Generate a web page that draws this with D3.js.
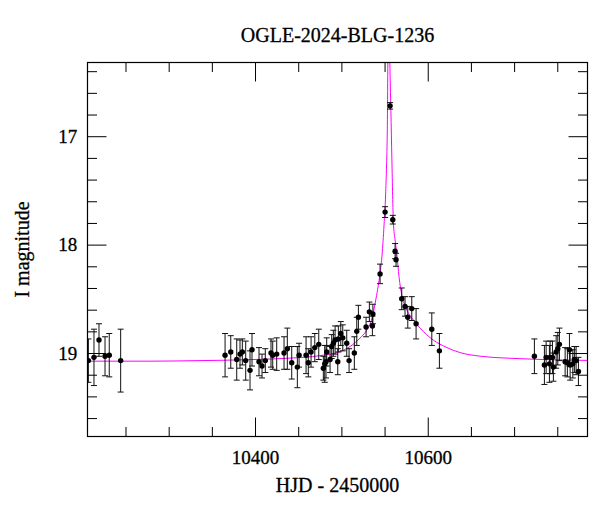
<!DOCTYPE html>
<html>
<head>
<meta charset="utf-8">
<script src="https://cdn.jsdelivr.net/npm/d3@7"></script>
<style>
  body { margin: 0; background: #fff; }
  text { font-family: "Liberation Serif", serif; fill: #000; stroke: #000; stroke-width: 0.3px; }
</style>
</head>
<body>
<svg id="chart" width="600" height="512"></svg>
<script>
// photometry (HJD - 2450000, I mag, error)
const hjd = [10207, 10213.5, 10219.3, 10226.3, 10231.2, 10244.4,
  10365.3, 10371.9, 10378.8, 10382.6, 10385.3, 10389.2, 10394.2, 10396.5, 10404.6, 10408.1,
  10411.9, 10418.5, 10420.5, 10425.1, 10433.6, 10437.4, 10442.5, 10449.0, 10451.0, 10459.1,
  10461.7, 10464.9, 10469.2, 10473.8, 10479.1, 10480.7, 10482.2, 10483.0, 10486.9, 10488.8,
  10490.7, 10492.7, 10495.8, 10496.5, 10499.3, 10501.6, 10506.2, 10508.9, 10515.0, 10517.8,
  10519.7, 10528.6, 10532.4, 10535.9, 10536.5, 10544.8, 10550.6, 10556.4, 10559.5, 10562.2,
  10563.3, 10569.9, 10573.7, 10576.9, 10581.5, 10586.5, 10604.7, 10613.5,
  10723.5, 10735.1, 10737.1, 10740.9, 10741.7, 10744.4, 10745.5, 10748.7, 10750.6, 10752.5,
  10759.1, 10761.7, 10764.1, 10764.9, 10768.0, 10769.8, 10771.8, 10774.5];
const mag = [19.07, 19.04, 18.88, 19.03, 19.02, 19.07,
  19.02, 18.99, 19.06, 19.01, 18.99, 19.07, 19.16, 18.97, 19.08, 19.12,
  19.07, 19.00, 19.02, 19.01, 19.00, 18.96, 19.09, 19.13, 19.02, 19.02,
  19.09, 18.99, 18.95, 18.92, 19.14, 19.10, 19.08, 18.99, 19.06, 18.94,
  18.91, 18.88, 19.08, 18.87, 18.82, 18.86, 18.91, 19.07, 19.00, 18.80,
  18.67, 18.76, 18.62, 18.75, 18.64, 18.27, 17.70, 16.72, 17.77, 18.06,
  18.14, 18.50, 18.57, 18.67, 18.59, 18.73, 18.78, 18.98,
  19.03, 19.11, 19.04, 19.10, 19.04, 19.04, 19.13, 18.99, 18.96, 18.92,
  19.08, 19.09, 18.97, 19.11, 19.10, 19.06, 19.07, 19.17];
const err = [0.20, 0.26, 0.15, 0.18, 0.20, 0.29,
  0.20, 0.15, 0.19, 0.13, 0.12, 0.18, 0.18, 0.15, 0.13, 0.11,
  0.11, 0.13, 0.13, 0.15, 0.15, 0.19, 0.15, 0.19, 0.11, 0.17,
  0.13, 0.14, 0.13, 0.14, 0.11, 0.17, 0.15, 0.13, 0.12, 0.11,
  0.12, 0.13, 0.12, 0.12, 0.11, 0.12, 0.12, 0.11, 0.15, 0.13,
  0.11, 0.09, 0.09, 0.09, 0.09, 0.09, 0.05, 0.03, 0.04, 0.07,
  0.06, 0.10, 0.09, 0.10, 0.11, 0.14, 0.15, 0.16,
  0.16, 0.18, 0.15, 0.17, 0.15, 0.15, 0.13, 0.15, 0.15, 0.15,
  0.13, 0.13, 0.15, 0.14, 0.13, 0.12, 0.13, 0.13];

// model light curve
const modelHjd = [10206, 10278.4, 10336.3, 10394.2, 10440.5, 10475.3, 10498.5, 10512.4, 10521.6,
  10528.6, 10535.5, 10540.2, 10544.8, 10547.1, 10549.4, 10551.2, 10552.3, 10553.3, 10553.8,
  10555.0,
  10556.1, 10557.3, 10558.5, 10560.2, 10562.2, 10564.1, 10566.8, 10569.9, 10573.7, 10578.4,
  10583.4, 10591.1, 10606.5, 10621.2, 10637.5, 10660.6, 10706.9, 10785];
const modelMag = [19.075, 19.075, 19.070, 19.061, 19.047, 19.024, 18.987, 18.927, 18.862,
  18.798, 18.678, 18.493, 18.262, 18.096, 17.819, 17.542, 17.265, 16.849, 16.317,
  15.8,
  16.317, 16.757, 17.219, 17.791, 17.958, 18.078, 18.300, 18.465, 18.567, 18.641,
  18.696, 18.770, 18.881, 18.946, 18.996, 19.029, 19.052, 19.068];

const xMajor = [10400, 10600];
const xMinor = [10250, 10300, 10350, 10450, 10500, 10550, 10650, 10700, 10750];
const yMajor = [17, 18, 19];
const yMinor = [16.4, 16.6, 16.8, 17.2, 17.4, 17.6, 17.8, 18.2, 18.4, 18.6, 18.8, 19.2, 19.4, 19.6];

const pL = 87.5, pR = 587.5, pT = 62.5, pB = 436.5;
const major = 19, minor = 9.5;

const svg = d3.select('#chart');

const x = d3.scaleLinear().domain([10206, 10785]).range([pL, pR]);
const y = d3.scaleLinear().domain([16.32, 19.77]).range([pT, pB]);

svg.append('clipPath').attr('id', 'clip')
   .append('rect')
   .attr('x', pL).attr('y', pT)
   .attr('width', pR - pL).attr('height', pB - pT);

// model curve
const model = modelHjd.map((t, i) => [t, modelMag[i]]);
svg.append('path')
   .datum(model)
   .attr('clip-path', 'url(#clip)')
   .attr('fill', 'none')
   .attr('stroke', '#ff00ff')
   .attr('stroke-width', 1)
   .attr('d', d3.line().x(d => x(d[0])).y(d => y(d[1])).curve(d3.curveMonotoneX));

// error bars and points
const pts = hjd.map((t, i) => ({ t: t, m: mag[i], e: err[i] }));
const g = svg.append('g').attr('clip-path', 'url(#clip)');
const bars = g.selectAll('g.bar').data(pts).enter().append('g').attr('class', 'bar')
   .attr('stroke', '#111').attr('stroke-width', 1);
bars.append('line')
    .attr('x1', d => x(d.t)).attr('x2', d => x(d.t))
    .attr('y1', d => y(d.m - d.e)).attr('y2', d => y(d.m + d.e));
bars.append('line')
    .attr('x1', d => x(d.t) - 3).attr('x2', d => x(d.t) + 3)
    .attr('y1', d => y(d.m - d.e)).attr('y2', d => y(d.m - d.e));
bars.append('line')
    .attr('x1', d => x(d.t) - 3).attr('x2', d => x(d.t) + 3)
    .attr('y1', d => y(d.m + d.e)).attr('y2', d => y(d.m + d.e));
g.selectAll('circle').data(pts).enter().append('circle')
 .attr('cx', d => x(d.t)).attr('cy', d => y(d.m))
 .attr('r', 2.7).attr('fill', '#000');

// axes: ticks pointing inward on all four sides
function ticks(axis, vals, size, pos, labels, pad) {
  const a = axis.tickValues(vals).tickSize(-size).tickPadding(pad || 3)
                .tickFormat(labels ? d3.format('d') : '');
  const sel = svg.append('g').attr('transform', pos).call(a);
  sel.select('.domain').remove();
  sel.selectAll('.tick line').attr('stroke', '#000').attr('stroke-width', 1);
  return sel;
}

const bx = ticks(d3.axisBottom(x), xMajor, major, `translate(0,${pB})`, true, 14.3);
ticks(d3.axisBottom(x), xMinor, minor, `translate(0,${pB})`, false);
ticks(d3.axisTop(x), xMajor, major, `translate(0,${pT})`, false);
ticks(d3.axisTop(x), xMinor, minor, `translate(0,${pT})`, false);
const ly = ticks(d3.axisLeft(y), yMajor, major, `translate(${pL},0)`, true, 10.2);
ticks(d3.axisLeft(y), yMinor, minor, `translate(${pL},0)`, false);
ticks(d3.axisRight(y), yMajor, major, `translate(${pR},0)`, false);
ticks(d3.axisRight(y), yMinor, minor, `translate(${pR},0)`, false);

bx.selectAll('text').style('font-size', '19px').style('font-family', '"Liberation Serif", serif').attr('fill', '#000');
ly.selectAll('text').style('font-size', '19px').style('font-family', '"Liberation Serif", serif').attr('fill', '#000');

// frame
svg.append('rect')
   .attr('x', pL).attr('y', pT)
   .attr('width', pR - pL).attr('height', pB - pT)
   .attr('fill', 'none').attr('stroke', '#000').attr('stroke-width', 1.2);

// titles
const cx = (pL + pR) / 2;
svg.append('text').attr('x', cx).attr('y', 41.7).attr('text-anchor', 'middle')
   .style('font-size', '20px').text('OGLE-2024-BLG-1236');
svg.append('text').attr('x', cx).attr('y', 491.7).attr('text-anchor', 'middle')
   .style('font-size', '20px').text('HJD - 2450000');
svg.append('text')
   .attr('transform', `translate(29,${(pT + pB) / 2}) rotate(-90)`)
   .attr('text-anchor', 'middle')
   .style('font-size', '20px').text('I magnitude');
</script>
</body>
</html>
